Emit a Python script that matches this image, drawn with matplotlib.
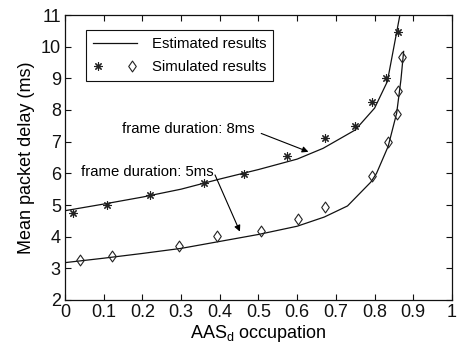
import matplotlib
matplotlib.use("Agg")
import matplotlib.pyplot as plt
from matplotlib.lines import Line2D
from matplotlib.legend_handler import HandlerTuple
from matplotlib.path import Path

plt.rcParams['font.family'] = ['Liberation Sans', 'DejaVu Sans']
plt.rcParams['mathtext.fontset'] = 'custom'
plt.rcParams['mathtext.rm'] = 'Liberation Sans'
plt.rcParams['mathtext.it'] = 'Liberation Sans'

# Estimated (analytical) curves
est8_x = [0, 0.1, 0.2, 0.3, 0.4, 0.5, 0.6, 0.667, 0.75, 0.8, 0.833, 0.87]
est8_y = [4.82, 5.03, 5.25, 5.5, 5.82, 6.12, 6.45, 6.79, 7.37, 8.06, 8.9, 11.3]
est5_x = [0, 0.1, 0.2, 0.3, 0.4, 0.5, 0.6, 0.67, 0.73, 0.79, 0.805, 0.835, 0.857, 0.868, 0.875]
est5_y = [3.18, 3.32, 3.47, 3.63, 3.85, 4.07, 4.33, 4.62, 4.97, 5.72, 6.0, 6.85, 7.9, 8.95, 9.85]

# Simulated points
sim8_x = [0.02, 0.109, 0.22, 0.359, 0.463, 0.573, 0.672, 0.749, 0.794, 0.829, 0.861]
sim8_y = [4.74, 5.01, 5.33, 5.70, 5.99, 6.56, 7.12, 7.48, 8.26, 9.02, 10.45]
sim5_x = [0.04, 0.121, 0.294, 0.394, 0.506, 0.601, 0.671, 0.792, 0.835, 0.857, 0.860, 0.872]
sim5_y = [3.25, 3.39, 3.69, 4.02, 4.17, 4.56, 4.94, 5.93, 7.0, 7.88, 8.61, 9.67]

xticks = [0, 0.1, 0.2, 0.3, 0.4, 0.5, 0.6, 0.7, 0.8, 0.9, 1]
xticklabels = ['0', '0.1', '0.2', '0.3', '0.4', '0.5', '0.6', '0.7', '0.8', '0.9', '1']
yticks = [2, 3, 4, 5, 6, 7, 8, 9, 10, 11]

fig = plt.figure(figsize=(4.6, 3.48), dpi=100)
ax = fig.add_axes([65/460, 48/348, 387/460, 285/348])

diamond = Path([(0, -1), (0.7, 0), (0, 1), (-0.7, 0), (0, -1)],
               [Path.MOVETO, Path.LINETO, Path.LINETO, Path.LINETO, Path.CLOSEPOLY])

lc = '#111111'
ax.plot(est8_x, est8_y, color=lc, lw=0.9)
ax.plot(est5_x, est5_y, color=lc, lw=0.9)
ast = ax.plot(sim8_x, sim8_y, linestyle='none', marker=(8, 2, 0), ms=6,
              mec='#222222', mew=0.8, color='#222222')[0]
dia = ax.plot(sim5_x, sim5_y, linestyle='none', marker=diamond, ms=7.8,
              mfc='none', mec='#222222', mew=0.8)[0]

ax.set_xlim(0, 1)
ax.set_ylim(2, 11)
ax.set_xticks(xticks)
ax.set_xticklabels(xticklabels)
ax.set_yticks(yticks)
ax.tick_params(direction='in', length=4, width=0.8, top=True, right=True,
               labelsize=13, pad=3, colors='#111111')
for s in ax.spines.values():
    s.set_linewidth(0.9)
    s.set_color('#111111')

ax.set_xlabel(r'AAS$_{\rm d}$ occupation', fontsize=13, labelpad=1)
ax.set_ylabel('Mean packet delay (ms)', fontsize=13, labelpad=4)

# Annotations
ax.text(0.1465, 7.265, 'frame duration: 8ms', fontsize=10.7, va='baseline', ha='left')
ax.annotate('', xy=(0.629, 6.68), xytext=(0.507, 7.26),
            arrowprops=dict(arrowstyle='-|>', mutation_scale=9, lw=0.8, color='k',
                            shrinkA=0, shrinkB=0))
ax.text(0.0406, 5.93, 'frame duration: 5ms', fontsize=10.7, va='baseline', ha='left')
ax.annotate('', xy=(0.452, 4.16), xytext=(0.3876, 5.95),
            arrowprops=dict(arrowstyle='-|>', mutation_scale=9, lw=0.8, color='k',
                            shrinkA=0, shrinkB=0))

est_handle = Line2D([], [], color=lc, lw=0.9)
leg = ax.legend([est_handle, (ast, dia)], ['Estimated results', 'Simulated results'],
                handler_map={tuple: HandlerTuple(ndivide=None, pad=1.6)},
                loc='upper left', bbox_to_anchor=(0.054, 0.947), borderaxespad=0,
                fontsize=10.7, fancybox=False, edgecolor='#111111', framealpha=1,
                handlelength=3.0, handletextpad=1.0, labelspacing=0.65, borderpad=0.45)
leg.get_frame().set_linewidth(0.8)

fig.savefig('out.png', dpi=100)
